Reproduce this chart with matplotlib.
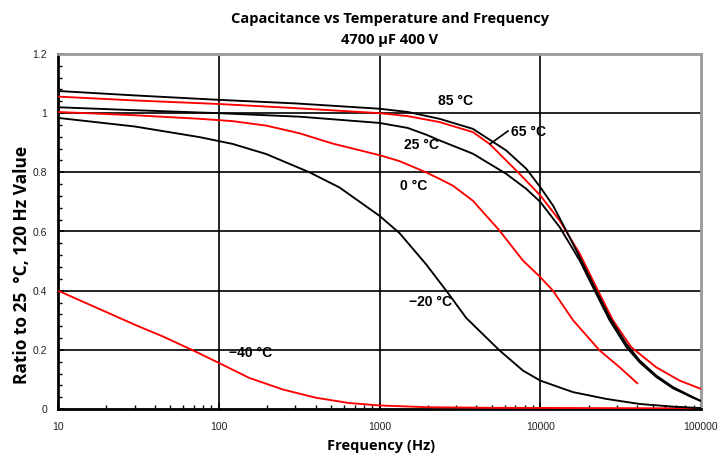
import matplotlib
matplotlib.use("Agg")
import matplotlib.pyplot as plt
from matplotlib.ticker import FixedLocator, MultipleLocator, LogLocator, NullFormatter

plt.rcParams['font.family'] = ['Liberation Sans', 'DejaVu Sans']

# ---- data ----
f_85 = [10, 30, 100, 300, 1000, 1500, 2360, 3810, 6140, 8190, 10000, 12000, 14500, 17600, 22300, 27000, 34300, 41500, 52700, 67000, 89200, 100000]
v_85 = [1.075, 1.06, 1.045, 1.033, 1.015, 1.004, 0.981, 0.947, 0.874, 0.812, 0.75, 0.688, 0.603, 0.513, 0.40, 0.31, 0.22, 0.164, 0.113, 0.074, 0.04, 0.027]

f_65 = [10, 30, 100, 300, 1000, 1500, 2360, 3810, 4840, 7430, 10000, 13200, 17600, 22300, 28300, 36800, 52700, 73600, 100000]
v_65 = [1.056, 1.043, 1.031, 1.017, 1.0, 0.99, 0.970, 0.936, 0.896, 0.795, 0.722, 0.637, 0.525, 0.412, 0.30, 0.209, 0.141, 0.096, 0.068]

f_25 = [10, 30, 100, 320, 1000, 1500, 1980, 2360, 3810, 6140, 8190, 10000, 13200, 17600, 21800, 27000, 34300, 41500, 52700, 67000, 89200, 100000]
v_25 = [1.02, 1.01, 1.0, 0.988, 0.967, 0.95, 0.926, 0.908, 0.863, 0.795, 0.744, 0.70, 0.615, 0.502, 0.40, 0.30, 0.21, 0.158, 0.108, 0.07, 0.038, 0.027]

f_0 = [10, 30, 76, 122, 197, 318, 513, 1000, 1330, 1950, 2360, 2860, 3810, 5580, 7800, 10000, 12000, 16000, 23400, 31200, 40500]
v_0 = [1.004, 0.993, 0.981, 0.973, 0.958, 0.932, 0.897, 0.858, 0.838, 0.80, 0.778, 0.755, 0.704, 0.603, 0.502, 0.446, 0.40, 0.30, 0.198, 0.141, 0.085]

f_m20 = [10, 30, 76, 122, 197, 367, 563, 1000, 1330, 1950, 2660, 3460, 5580, 7800, 10000, 16000, 25800, 41500, 67000, 100000]
v_m20 = [0.984, 0.955, 0.919, 0.896, 0.862, 0.80, 0.749, 0.653, 0.595, 0.489, 0.393, 0.308, 0.198, 0.13, 0.096, 0.057, 0.034, 0.017, 0.008, 0.003]

f_m40 = [10, 20.5, 30, 45, 68, 100, 155, 250, 403, 650, 1000, 2000, 5000, 100000]
v_m40 = [0.40, 0.325, 0.285, 0.245, 0.20, 0.156, 0.105, 0.066, 0.038, 0.020, 0.012, 0.006, 0.004, 0.002]

x_ticks = [10, 100, 1000, 10000, 100000]
x_tick_labels = ['10', '100', '1000', '10000', '100000']
y_ticks = [0, 0.2, 0.4, 0.6, 0.8, 1.0, 1.2]
y_tick_labels = ['0', '0.2', '0.4', '0.6', '0.8', '1', '1.2']

title_1 = 'Capacitance vs Temperature and Frequency'
title_2 = '4700 µF 400 V'
x_label = 'Frequency (Hz)'
y_label = 'Ratio to 25  °C, 120 Hz Value'

labels = [('85 °C', 455, 101), ('65 °C', 528, 132), ('25 °C', 421, 145),
          ('0 °C', 414, 186), ('\u221220 °C', 430, 302), ('\u221240 °C', 251, 353)]

# ---- figure ----
fig = plt.figure(figsize=(7.2, 4.58), dpi=100)
ax = fig.add_axes([58/720, 1 - 409/458, (701 - 58)/720, (409 - 54)/458])
ax.set_xscale('log')
ax.set_xlim(10, 100000)
ax.set_ylim(0, 1.2)

# grid
for xv in x_ticks[1:-1]:
    ax.axvline(xv, color='black', lw=1.2, zorder=1)
for yv in y_ticks[1:-1]:
    ax.axhline(yv, color='black', lw=1.2, zorder=1)

lw = 1.35
kw = dict(lw=lw, zorder=3, solid_joinstyle='round', solid_capstyle='butt')
ax.plot(f_m40, v_m40, color='#ff0000', **kw)
ax.plot(f_m20, v_m20, color='black', **kw)
ax.plot(f_0, v_0, color='#ff0000', **kw)
ax.plot(f_25, v_25, color='black', **kw)
ax.plot(f_65, v_65, color='#ff0000', **kw)
ax.plot(f_85, v_85, color='black', **kw)

# spines
for s in ['left', 'bottom']:
    ax.spines[s].set_color('black')
    ax.spines[s].set_linewidth(2)
for s in ['top', 'right']:
    ax.spines[s].set_color('#999999')
    ax.spines[s].set_linewidth(2)

ax.xaxis.set_major_locator(FixedLocator(x_ticks))
ax.set_xticklabels(x_tick_labels)
ax.xaxis.set_minor_locator(LogLocator(base=10, subs=range(2, 10)))
ax.xaxis.set_minor_formatter(NullFormatter())
ax.yaxis.set_major_locator(FixedLocator(y_ticks))
ax.set_yticklabels(y_tick_labels)
ax.yaxis.set_minor_locator(MultipleLocator(0.04))
ax.tick_params(which='both', direction='in', top=False, right=False, colors='black', labelcolor='#222222', labelsize=7.5)
ax.tick_params(which='major', length=4, width=1.2)
ax.tick_params(which='minor', length=3, width=1)
ax.tick_params(axis='x', pad=9)
ax.tick_params(axis='y', pad=8)

cond = ['Liberation Sans Narrow', 'Open Sans', 'DejaVu Sans']
fig.text(390/720, 1 - 19/458, title_1, ha='center', va='center', fontsize=10.5, fontweight='bold', family=cond)
fig.text(390/720, 1 - 40/458, title_2, ha='center', va='center', fontsize=10.5, fontweight='bold', family=cond)
fig.text(381/720, 1 - 446/458, x_label, ha='center', va='center', fontsize=10.5, fontweight='bold', family=cond)
fig.text(22/720, 1 - 265/458, y_label, ha='center', va='center', rotation=90, fontsize=12.5, fontweight='bold', family=cond)

lab_kw = dict(ha='center', va='center', fontsize=10, fontweight='bold', zorder=5)


def pix(px, py):
    # convert reference pixel position to axes fraction
    return ((px - 58) / (701 - 58), (409 - py) / (409 - 54))


for txt, px, py in labels:
    ax.text(*pix(px, py), txt, transform=ax.transAxes, **lab_kw)

# leader line for 65 °C
p0 = pix(490, 144)
p1 = pix(508, 131)
ax.plot([p0[0], p1[0]], [p0[1], p1[1]], color='black', lw=1.2, transform=ax.transAxes, zorder=5)

fig.savefig('out.png', dpi=100)
